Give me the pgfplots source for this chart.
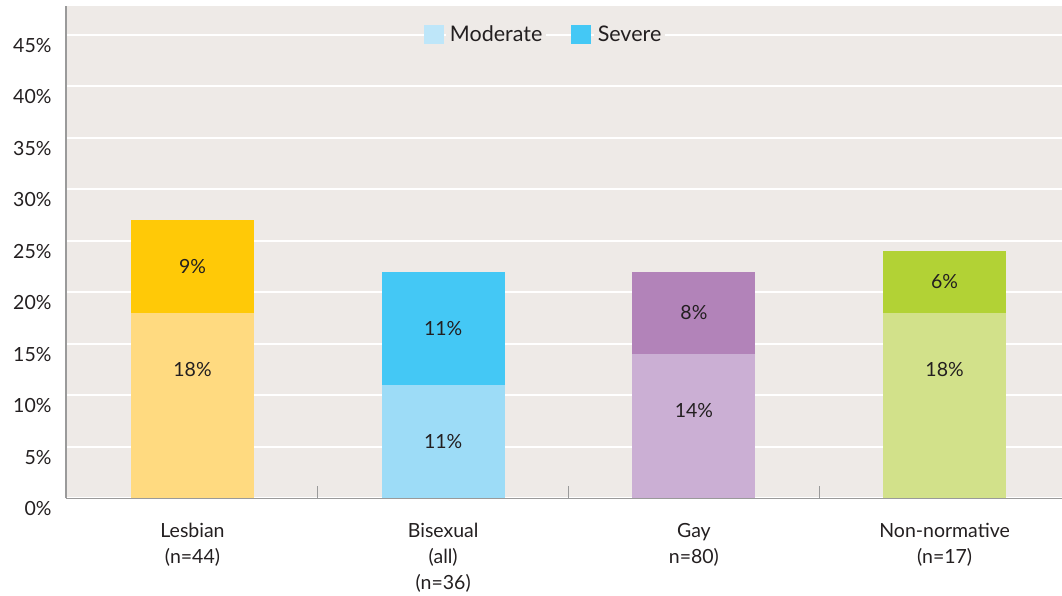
\documentclass[border=0pt]{standalone}
\usepackage{pgfplots}
\pgfplotsset{compat=1.18}
\usepackage{pgfplotstable}
\usepackage{fontspec}
\setmainfont{Lato}

\definecolor{bgc}{HTML}{EEEAE7}
\definecolor{axc}{HTML}{9A9A9A}
\definecolor{txt}{HTML}{231F20}
\definecolor{lesmod}{HTML}{FFDA80}
\definecolor{lessev}{HTML}{FFC907}
\definecolor{bimod}{HTML}{9DDCF7}
\definecolor{bisev}{HTML}{44C8F5}
\definecolor{gaymod}{HTML}{CBAFD4}
\definecolor{gaysev}{HTML}{B283B9}
\definecolor{nonmod}{HTML}{D2E18A}
\definecolor{nonsev}{HTML}{B2D235}
\definecolor{legmod}{HTML}{BEE6F9}
\definecolor{legsev}{HTML}{44C8F5}

% share (%) with moderate / severe symptoms, one column pair per group
\pgfplotstableread{
x lm ls bm bs gm gs nm ns
0 18 9  0  0  0  0  0  0
1 0  0  11 11 0  0  0  0
2 0  0  0  0  14 8  0  0
3 0  0  0  0  0  0  18 6
}\shares

\newcommand{\lblfont}{\fontsize{19.5}{26}\selectfont}
\newcommand{\legfont}{\fontsize{21.5}{26}\selectfont}

\pgfplotsset{
  % one stacked bar segment with its value label
  seg/.style 2 args={
    fill=#2, draw=none, forget plot,
    table/x=x, table/y=#1, table/meta=#1,
    point meta=explicit symbolic,
    nodes near coords={\ifnum\pgfplotspointmeta=0\relax\else\pgfplotspointmeta\%\fi},
  },
  % stacked labels come out centred in the segment; moderate ones are
  % moved to a fixed distance below the segment top
  mod/.style 2 args={seg={#1}{#2},
    every node near coord/.style={font=\lblfont, text=txt, anchor=center,
      inner sep=0pt, yshift=\pgfplotspointmeta*5.155pt-56.5pt}},
  sev/.style 2 args={seg={#1}{#2},
    every node near coord/.style={font=\lblfont, text=txt, anchor=center,
      inner sep=0pt}},
}

\begin{document}
\begin{tikzpicture}
\useasboundingbox (-66pt,-97.5pt) rectangle (996pt,498.5pt);
\begin{axis}[
  at={(0pt,0pt)}, anchor=south west,
  scale only axis,
  x=250.7pt, y=10.31pt,
  xmin=-0.5046, xmax=3.468, ymin=0, ymax=47.77,
  ybar stacked, bar width=123pt,
  axis lines*=left,
  axis line style={draw=axc, line width=1.3pt},
  axis background/.style={fill=bgc},
  ymajorgrids, grid style={white, line width=2pt},
  major tick length=0pt,
  ytick={0,5,...,45},
  yticklabels={0\%,5\%,10\%,15\%,20\%,25\%,30\%,35\%,40\%,45\%},
  xtick={0,1,2,3},
  xticklabels={{Lesbian\\(n=44)},{Bisexual\\(all)\\(n=36)},{Gay\\n=80)},{Non-normative\\(n=17)}},
  extra x ticks={0.5,1.5,2.5}, extra x tick labels={},
  extra x tick style={major tick length=12pt, tick align=inside,
    tick style={draw=axc, line width=1.2pt}, grid=none},
  tick label style={font=\lblfont, text=txt},
  yticklabel style={xshift=-11pt, yshift=-10.5pt},
  xticklabel style={align=center, yshift=-21pt},
  legend columns=2,
  legend style={at={(0.4804,0.942)}, anchor=center, draw=none, fill=none,
    font=\legfont, text=txt,
    /tikz/every odd column/.append style={column sep=3pt},
    /tikz/every even column/.append style={column sep=25pt},
    nodes={fill=bgc, inner xsep=4pt, inner ysep=2pt}},
]
\addplot[mod={lm}{lesmod}] table {\shares};
\addplot[sev={ls}{lessev}] table {\shares};
\addplot[mod={bm}{bimod}] table {\shares};
\addplot[sev={bs}{bisev}] table {\shares};
\addplot[mod={gm}{gaymod}] table {\shares};
\addplot[sev={gs}{gaysev}] table {\shares};
\addplot[mod={nm}{nonmod}] table {\shares};
\addplot[sev={ns}{nonsev}] table {\shares};

\addlegendimage{legend image code/.code={\fill[legmod] (0pt,-9pt) rectangle (19pt,9pt);}}
\addlegendentry{Moderate}
\addlegendimage{legend image code/.code={\fill[legsev] (0pt,-9pt) rectangle (19pt,9pt);}}
\addlegendentry{Severe}
\end{axis}
\end{tikzpicture}
\end{document}
